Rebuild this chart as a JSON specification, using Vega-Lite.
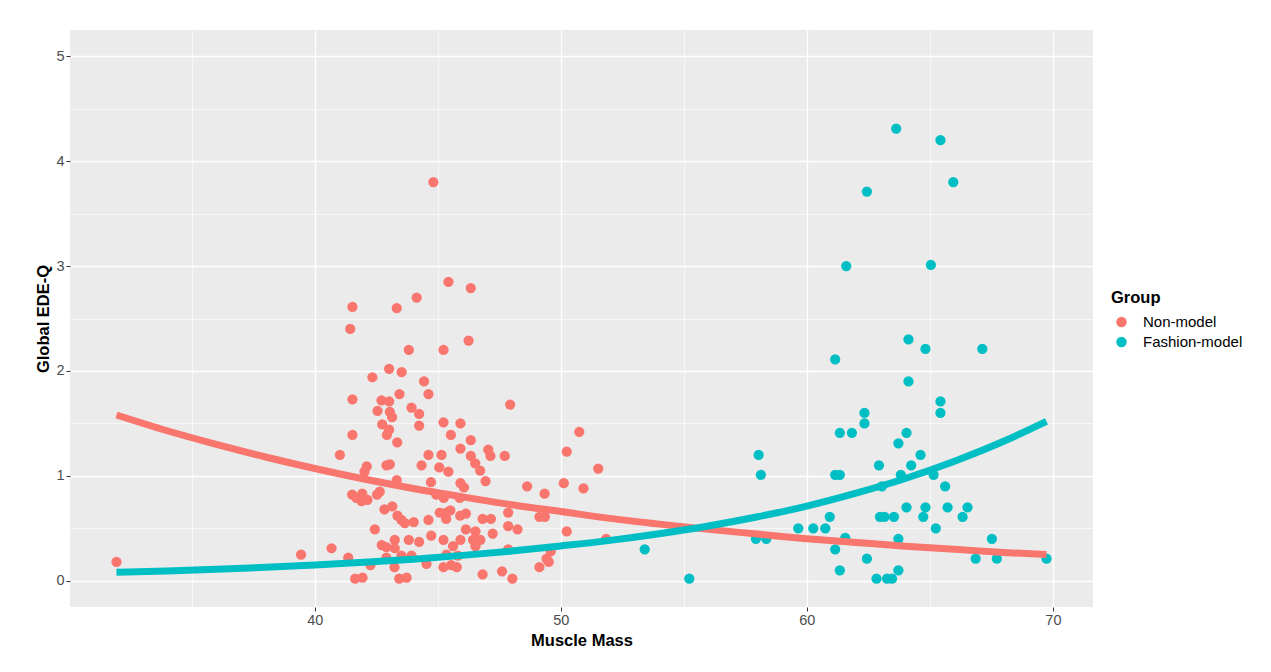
{
  "$schema": "https://vega.github.io/schema/vega-lite/v6.json",
  "autosize": "none",
  "width": 1023,
  "height": 577,
  "padding": {"left": 70, "top": 30, "right": 178, "bottom": 65},
  "background": "white",
  "config": {
    "view": {"fill": "#EBEBEB", "stroke": null},
    "font": "Liberation Sans",
    "axis": {
      "domain": false,
      "gridColor": "white",
      "labelColor": "#4D4D4D",
      "labelFontSize": 14.5,
      "labelFont": "Liberation Sans",
      "titleFont": "Liberation Sans",
      "titleFontSize": 16.5,
      "titleFontWeight": "bold",
      "titleColor": "black",
      "tickSize": 4,
      "labelPadding": 2
    }
  },
  "datasets": {
    "pts": [
      {"mass": 31.94, "edeq": 0.18, "group": "Non-model"},
      {"mass": 39.44, "edeq": 0.25, "group": "Non-model"},
      {"mass": 40.68, "edeq": 0.31, "group": "Non-model"},
      {"mass": 41.02, "edeq": 1.20, "group": "Non-model"},
      {"mass": 41.36, "edeq": 0.22, "group": "Non-model"},
      {"mass": 44.82, "edeq": 3.80, "group": "Non-model"},
      {"mass": 45.43, "edeq": 2.85, "group": "Non-model"},
      {"mass": 46.34, "edeq": 2.79, "group": "Non-model"},
      {"mass": 41.53, "edeq": 2.61, "group": "Non-model"},
      {"mass": 43.33, "edeq": 2.60, "group": "Non-model"},
      {"mass": 44.14, "edeq": 2.70, "group": "Non-model"},
      {"mass": 41.44, "edeq": 2.40, "group": "Non-model"},
      {"mass": 46.25, "edeq": 2.29, "group": "Non-model"},
      {"mass": 43.82, "edeq": 2.20, "group": "Non-model"},
      {"mass": 45.23, "edeq": 2.20, "group": "Non-model"},
      {"mass": 43.02, "edeq": 2.02, "group": "Non-model"},
      {"mass": 43.53, "edeq": 1.99, "group": "Non-model"},
      {"mass": 42.34, "edeq": 1.94, "group": "Non-model"},
      {"mass": 44.44, "edeq": 1.90, "group": "Non-model"},
      {"mass": 44.62, "edeq": 1.78, "group": "Non-model"},
      {"mass": 43.44, "edeq": 1.78, "group": "Non-model"},
      {"mass": 41.53, "edeq": 1.73, "group": "Non-model"},
      {"mass": 42.71, "edeq": 1.72, "group": "Non-model"},
      {"mass": 43.02, "edeq": 1.71, "group": "Non-model"},
      {"mass": 42.55, "edeq": 1.62, "group": "Non-model"},
      {"mass": 43.93, "edeq": 1.65, "group": "Non-model"},
      {"mass": 43.05, "edeq": 1.61, "group": "Non-model"},
      {"mass": 43.14, "edeq": 1.56, "group": "Non-model"},
      {"mass": 44.24, "edeq": 1.59, "group": "Non-model"},
      {"mass": 47.94, "edeq": 1.68, "group": "Non-model"},
      {"mass": 42.74, "edeq": 1.49, "group": "Non-model"},
      {"mass": 44.24, "edeq": 1.48, "group": "Non-model"},
      {"mass": 43.02, "edeq": 1.44, "group": "Non-model"},
      {"mass": 42.93, "edeq": 1.39, "group": "Non-model"},
      {"mass": 41.53, "edeq": 1.39, "group": "Non-model"},
      {"mass": 43.35, "edeq": 1.32, "group": "Non-model"},
      {"mass": 45.23, "edeq": 1.51, "group": "Non-model"},
      {"mass": 45.92, "edeq": 1.50, "group": "Non-model"},
      {"mass": 45.53, "edeq": 1.39, "group": "Non-model"},
      {"mass": 46.34, "edeq": 1.34, "group": "Non-model"},
      {"mass": 45.92, "edeq": 1.26, "group": "Non-model"},
      {"mass": 50.75, "edeq": 1.42, "group": "Non-model"},
      {"mass": 50.24, "edeq": 1.23, "group": "Non-model"},
      {"mass": 44.62, "edeq": 1.20, "group": "Non-model"},
      {"mass": 45.15, "edeq": 1.20, "group": "Non-model"},
      {"mass": 46.34, "edeq": 1.19, "group": "Non-model"},
      {"mass": 47.05, "edeq": 1.25, "group": "Non-model"},
      {"mass": 47.14, "edeq": 1.19, "group": "Non-model"},
      {"mass": 47.72, "edeq": 1.19, "group": "Non-model"},
      {"mass": 46.52, "edeq": 1.12, "group": "Non-model"},
      {"mass": 46.72, "edeq": 1.05, "group": "Non-model"},
      {"mass": 46.94, "edeq": 0.95, "group": "Non-model"},
      {"mass": 42.11, "edeq": 1.09, "group": "Non-model"},
      {"mass": 42.02, "edeq": 1.04, "group": "Non-model"},
      {"mass": 42.91, "edeq": 1.10, "group": "Non-model"},
      {"mass": 43.05, "edeq": 1.11, "group": "Non-model"},
      {"mass": 44.34, "edeq": 1.10, "group": "Non-model"},
      {"mass": 45.06, "edeq": 1.08, "group": "Non-model"},
      {"mass": 45.43, "edeq": 1.04, "group": "Non-model"},
      {"mass": 44.72, "edeq": 0.94, "group": "Non-model"},
      {"mass": 43.33, "edeq": 0.96, "group": "Non-model"},
      {"mass": 45.92, "edeq": 0.93, "group": "Non-model"},
      {"mass": 46.06, "edeq": 0.89, "group": "Non-model"},
      {"mass": 51.52, "edeq": 1.07, "group": "Non-model"},
      {"mass": 48.63, "edeq": 0.90, "group": "Non-model"},
      {"mass": 49.34, "edeq": 0.83, "group": "Non-model"},
      {"mass": 50.12, "edeq": 0.93, "group": "Non-model"},
      {"mass": 50.92, "edeq": 0.88, "group": "Non-model"},
      {"mass": 42.64, "edeq": 0.85, "group": "Non-model"},
      {"mass": 42.53, "edeq": 0.82, "group": "Non-model"},
      {"mass": 41.52, "edeq": 0.82, "group": "Non-model"},
      {"mass": 41.93, "edeq": 0.83, "group": "Non-model"},
      {"mass": 41.69, "edeq": 0.79, "group": "Non-model"},
      {"mass": 41.90, "edeq": 0.76, "group": "Non-model"},
      {"mass": 42.14, "edeq": 0.77, "group": "Non-model"},
      {"mass": 44.94, "edeq": 0.82, "group": "Non-model"},
      {"mass": 45.24, "edeq": 0.79, "group": "Non-model"},
      {"mass": 45.89, "edeq": 0.79, "group": "Non-model"},
      {"mass": 42.83, "edeq": 0.68, "group": "Non-model"},
      {"mass": 43.15, "edeq": 0.71, "group": "Non-model"},
      {"mass": 43.36, "edeq": 0.62, "group": "Non-model"},
      {"mass": 43.52, "edeq": 0.58, "group": "Non-model"},
      {"mass": 43.66, "edeq": 0.55, "group": "Non-model"},
      {"mass": 44.02, "edeq": 0.56, "group": "Non-model"},
      {"mass": 44.62, "edeq": 0.58, "group": "Non-model"},
      {"mass": 45.08, "edeq": 0.65, "group": "Non-model"},
      {"mass": 45.35, "edeq": 0.65, "group": "Non-model"},
      {"mass": 45.51, "edeq": 0.67, "group": "Non-model"},
      {"mass": 45.34, "edeq": 0.59, "group": "Non-model"},
      {"mass": 45.91, "edeq": 0.62, "group": "Non-model"},
      {"mass": 46.14, "edeq": 0.64, "group": "Non-model"},
      {"mass": 46.82, "edeq": 0.59, "group": "Non-model"},
      {"mass": 47.16, "edeq": 0.59, "group": "Non-model"},
      {"mass": 47.86, "edeq": 0.65, "group": "Non-model"},
      {"mass": 47.86, "edeq": 0.52, "group": "Non-model"},
      {"mass": 48.24, "edeq": 0.49, "group": "Non-model"},
      {"mass": 49.13, "edeq": 0.61, "group": "Non-model"},
      {"mass": 49.35, "edeq": 0.61, "group": "Non-model"},
      {"mass": 50.24, "edeq": 0.47, "group": "Non-model"},
      {"mass": 42.44, "edeq": 0.49, "group": "Non-model"},
      {"mass": 46.14, "edeq": 0.49, "group": "Non-model"},
      {"mass": 46.53, "edeq": 0.47, "group": "Non-model"},
      {"mass": 47.23, "edeq": 0.45, "group": "Non-model"},
      {"mass": 44.73, "edeq": 0.43, "group": "Non-model"},
      {"mass": 42.72, "edeq": 0.34, "group": "Non-model"},
      {"mass": 42.91, "edeq": 0.32, "group": "Non-model"},
      {"mass": 43.25, "edeq": 0.39, "group": "Non-model"},
      {"mass": 43.25, "edeq": 0.31, "group": "Non-model"},
      {"mass": 43.82, "edeq": 0.39, "group": "Non-model"},
      {"mass": 44.24, "edeq": 0.37, "group": "Non-model"},
      {"mass": 45.23, "edeq": 0.39, "group": "Non-model"},
      {"mass": 45.92, "edeq": 0.39, "group": "Non-model"},
      {"mass": 45.62, "edeq": 0.33, "group": "Non-model"},
      {"mass": 46.43, "edeq": 0.39, "group": "Non-model"},
      {"mass": 46.73, "edeq": 0.39, "group": "Non-model"},
      {"mass": 46.53, "edeq": 0.33, "group": "Non-model"},
      {"mass": 42.91, "edeq": 0.22, "group": "Non-model"},
      {"mass": 43.52, "edeq": 0.24, "group": "Non-model"},
      {"mass": 43.93, "edeq": 0.24, "group": "Non-model"},
      {"mass": 45.35, "edeq": 0.25, "group": "Non-model"},
      {"mass": 45.82, "edeq": 0.24, "group": "Non-model"},
      {"mass": 47.86, "edeq": 0.30, "group": "Non-model"},
      {"mass": 49.59, "edeq": 0.28, "group": "Non-model"},
      {"mass": 49.42, "edeq": 0.21, "group": "Non-model"},
      {"mass": 49.51, "edeq": 0.18, "group": "Non-model"},
      {"mass": 51.84, "edeq": 0.40, "group": "Non-model"},
      {"mass": 42.26, "edeq": 0.15, "group": "Non-model"},
      {"mass": 43.24, "edeq": 0.13, "group": "Non-model"},
      {"mass": 44.54, "edeq": 0.16, "group": "Non-model"},
      {"mass": 45.23, "edeq": 0.13, "group": "Non-model"},
      {"mass": 45.54, "edeq": 0.15, "group": "Non-model"},
      {"mass": 45.77, "edeq": 0.13, "group": "Non-model"},
      {"mass": 49.13, "edeq": 0.13, "group": "Non-model"},
      {"mass": 46.82, "edeq": 0.06, "group": "Non-model"},
      {"mass": 47.61, "edeq": 0.09, "group": "Non-model"},
      {"mass": 41.64, "edeq": 0.02, "group": "Non-model"},
      {"mass": 41.94, "edeq": 0.03, "group": "Non-model"},
      {"mass": 43.43, "edeq": 0.02, "group": "Non-model"},
      {"mass": 43.73, "edeq": 0.03, "group": "Non-model"},
      {"mass": 48.03, "edeq": 0.02, "group": "Non-model"},
      {"mass": 61.60, "edeq": 3.00, "group": "Fashion-model"},
      {"mass": 61.15, "edeq": 2.11, "group": "Fashion-model"},
      {"mass": 61.34, "edeq": 1.41, "group": "Fashion-model"},
      {"mass": 61.83, "edeq": 1.41, "group": "Fashion-model"},
      {"mass": 61.15, "edeq": 1.01, "group": "Fashion-model"},
      {"mass": 61.34, "edeq": 1.01, "group": "Fashion-model"},
      {"mass": 58.04, "edeq": 1.20, "group": "Fashion-model"},
      {"mass": 58.13, "edeq": 1.01, "group": "Fashion-model"},
      {"mass": 53.41, "edeq": 0.30, "group": "Fashion-model"},
      {"mass": 55.22, "edeq": 0.02, "group": "Fashion-model"},
      {"mass": 57.93, "edeq": 0.40, "group": "Fashion-model"},
      {"mass": 58.35, "edeq": 0.40, "group": "Fashion-model"},
      {"mass": 59.65, "edeq": 0.50, "group": "Fashion-model"},
      {"mass": 60.26, "edeq": 0.50, "group": "Fashion-model"},
      {"mass": 60.75, "edeq": 0.50, "group": "Fashion-model"},
      {"mass": 60.93, "edeq": 0.61, "group": "Fashion-model"},
      {"mass": 61.15, "edeq": 0.30, "group": "Fashion-model"},
      {"mass": 61.34, "edeq": 0.10, "group": "Fashion-model"},
      {"mass": 61.56, "edeq": 0.41, "group": "Fashion-model"},
      {"mass": 63.63, "edeq": 4.31, "group": "Fashion-model"},
      {"mass": 65.43, "edeq": 4.20, "group": "Fashion-model"},
      {"mass": 65.95, "edeq": 3.80, "group": "Fashion-model"},
      {"mass": 62.44, "edeq": 3.71, "group": "Fashion-model"},
      {"mass": 65.04, "edeq": 3.01, "group": "Fashion-model"},
      {"mass": 64.13, "edeq": 2.30, "group": "Fashion-model"},
      {"mass": 64.82, "edeq": 2.21, "group": "Fashion-model"},
      {"mass": 67.13, "edeq": 2.21, "group": "Fashion-model"},
      {"mass": 64.13, "edeq": 1.90, "group": "Fashion-model"},
      {"mass": 65.43, "edeq": 1.71, "group": "Fashion-model"},
      {"mass": 65.43, "edeq": 1.60, "group": "Fashion-model"},
      {"mass": 62.34, "edeq": 1.60, "group": "Fashion-model"},
      {"mass": 62.34, "edeq": 1.50, "group": "Fashion-model"},
      {"mass": 64.05, "edeq": 1.41, "group": "Fashion-model"},
      {"mass": 63.72, "edeq": 1.31, "group": "Fashion-model"},
      {"mass": 64.62, "edeq": 1.20, "group": "Fashion-model"},
      {"mass": 62.93, "edeq": 1.10, "group": "Fashion-model"},
      {"mass": 64.24, "edeq": 1.10, "group": "Fashion-model"},
      {"mass": 63.82, "edeq": 1.01, "group": "Fashion-model"},
      {"mass": 65.15, "edeq": 1.01, "group": "Fashion-model"},
      {"mass": 63.05, "edeq": 0.90, "group": "Fashion-model"},
      {"mass": 65.62, "edeq": 0.90, "group": "Fashion-model"},
      {"mass": 62.97, "edeq": 0.61, "group": "Fashion-model"},
      {"mass": 63.16, "edeq": 0.61, "group": "Fashion-model"},
      {"mass": 63.54, "edeq": 0.61, "group": "Fashion-model"},
      {"mass": 64.05, "edeq": 0.70, "group": "Fashion-model"},
      {"mass": 64.82, "edeq": 0.70, "group": "Fashion-model"},
      {"mass": 64.73, "edeq": 0.61, "group": "Fashion-model"},
      {"mass": 65.72, "edeq": 0.70, "group": "Fashion-model"},
      {"mass": 66.33, "edeq": 0.61, "group": "Fashion-model"},
      {"mass": 66.53, "edeq": 0.70, "group": "Fashion-model"},
      {"mass": 65.24, "edeq": 0.50, "group": "Fashion-model"},
      {"mass": 63.72, "edeq": 0.40, "group": "Fashion-model"},
      {"mass": 67.52, "edeq": 0.40, "group": "Fashion-model"},
      {"mass": 62.44, "edeq": 0.21, "group": "Fashion-model"},
      {"mass": 66.86, "edeq": 0.21, "group": "Fashion-model"},
      {"mass": 67.72, "edeq": 0.21, "group": "Fashion-model"},
      {"mass": 69.74, "edeq": 0.21, "group": "Fashion-model"},
      {"mass": 63.72, "edeq": 0.10, "group": "Fashion-model"},
      {"mass": 62.83, "edeq": 0.02, "group": "Fashion-model"},
      {"mass": 63.26, "edeq": 0.02, "group": "Fashion-model"},
      {"mass": 63.46, "edeq": 0.02, "group": "Fashion-model"}
    ],
    "fit": [
      {"mass": 31.94, "fit": 1.58, "group": "Non-model"},
      {"mass": 34, "fit": 1.43, "group": "Non-model"},
      {"mass": 36, "fit": 1.30, "group": "Non-model"},
      {"mass": 38, "fit": 1.18, "group": "Non-model"},
      {"mass": 40, "fit": 1.07, "group": "Non-model"},
      {"mass": 42, "fit": 0.97, "group": "Non-model"},
      {"mass": 44, "fit": 0.88, "group": "Non-model"},
      {"mass": 46, "fit": 0.80, "group": "Non-model"},
      {"mass": 48, "fit": 0.725, "group": "Non-model"},
      {"mass": 50, "fit": 0.66, "group": "Non-model"},
      {"mass": 52, "fit": 0.595, "group": "Non-model"},
      {"mass": 54, "fit": 0.54, "group": "Non-model"},
      {"mass": 56, "fit": 0.49, "group": "Non-model"},
      {"mass": 58, "fit": 0.445, "group": "Non-model"},
      {"mass": 60, "fit": 0.40, "group": "Non-model"},
      {"mass": 62, "fit": 0.365, "group": "Non-model"},
      {"mass": 64, "fit": 0.33, "group": "Non-model"},
      {"mass": 66, "fit": 0.30, "group": "Non-model"},
      {"mass": 68, "fit": 0.27, "group": "Non-model"},
      {"mass": 69.74, "fit": 0.25, "group": "Non-model"},
      {"mass": 31.94, "fit": 0.08, "group": "Fashion-model"},
      {"mass": 34, "fit": 0.094, "group": "Fashion-model"},
      {"mass": 36, "fit": 0.11, "group": "Fashion-model"},
      {"mass": 38, "fit": 0.128, "group": "Fashion-model"},
      {"mass": 40, "fit": 0.15, "group": "Fashion-model"},
      {"mass": 42, "fit": 0.176, "group": "Fashion-model"},
      {"mass": 44, "fit": 0.206, "group": "Fashion-model"},
      {"mass": 46, "fit": 0.242, "group": "Fashion-model"},
      {"mass": 48, "fit": 0.283, "group": "Fashion-model"},
      {"mass": 50, "fit": 0.332, "group": "Fashion-model"},
      {"mass": 52, "fit": 0.385, "group": "Fashion-model"},
      {"mass": 54, "fit": 0.448, "group": "Fashion-model"},
      {"mass": 56, "fit": 0.522, "group": "Fashion-model"},
      {"mass": 58, "fit": 0.61, "group": "Fashion-model"},
      {"mass": 60, "fit": 0.712, "group": "Fashion-model"},
      {"mass": 62, "fit": 0.835, "group": "Fashion-model"},
      {"mass": 64, "fit": 0.975, "group": "Fashion-model"},
      {"mass": 66, "fit": 1.14, "group": "Fashion-model"},
      {"mass": 68, "fit": 1.33, "group": "Fashion-model"},
      {"mass": 69.74, "fit": 1.52, "group": "Fashion-model"}
    ]
  },
  "encoding": {
    "x": {
      "field": "mass",
      "type": "quantitative",
      "scale": {"domain": [30.05, 71.63], "nice": false, "zero": false},
      "axis": {
        "title": "Muscle Mass",
        "values": [35, 40, 45, 50, 55, 60, 65, 70],
        "labelExpr": "datum.value % 10 === 0 ? format(datum.value, 'd') : ''",
        "tickColor": {"condition": {"test": "datum.value % 10 === 0", "value": "#333333"}, "value": "transparent"},
        "gridWidth": {"condition": {"test": "datum.value % 10 === 0", "value": 1.3}, "value": 0.6},
        "titlePadding": 6
      }
    },
    "y": {
      "type": "quantitative",
      "scale": {"domain": [-0.25, 5.25], "nice": false, "zero": false},
      "axis": {
        "title": "Global EDE-Q",
        "values": [0, 0.5, 1, 1.5, 2, 2.5, 3, 3.5, 4, 4.5, 5],
        "labelExpr": "datum.value % 1 === 0 ? format(datum.value, 'd') : ''",
        "tickColor": {"condition": {"test": "datum.value % 1 === 0", "value": "#333333"}, "value": "transparent"},
        "gridWidth": {"condition": {"test": "datum.value % 1 === 0", "value": 1.3}, "value": 0.6},
        "titlePadding": 4
      }
    }
  },
  "layer": [
    {
      "data": {"name": "pts"},
      "mark": {"type": "point", "filled": true, "opacity": 1, "size": 105, "shape": "circle"},
      "encoding": {
        "y": {"field": "edeq", "type": "quantitative"},
        "color": {
          "field": "group",
          "type": "nominal",
          "scale": {"domain": ["Non-model", "Fashion-model"], "range": ["#F8766D", "#00BFC4"]},
          "legend": {
            "title": "Group",
            "orient": "none",
            "legendX": 1041,
            "legendY": 260,
            "titleFont": "Liberation Sans",
            "titleFontSize": 16.5,
            "titleFontWeight": "bold",
            "titleColor": "black",
            "titlePadding": 8,
            "labelFont": "Liberation Sans",
            "labelFontSize": 15,
            "labelColor": "black",
            "labelOffset": 14,
            "symbolSize": 110,
            "symbolOffset": 3,
            "rowPadding": 4,
            "symbolStrokeWidth": 0
          }
        }
      }
    },
    {
      "data": {"name": "fit"},
      "mark": {"type": "line", "strokeWidth": 7, "interpolate": "monotone", "strokeCap": "butt"},
      "encoding": {
        "y": {"field": "fit", "type": "quantitative"},
        "color": {"field": "group", "type": "nominal", "legend": null},
        "detail": {"field": "group"}
      }
    }
  ]
}
